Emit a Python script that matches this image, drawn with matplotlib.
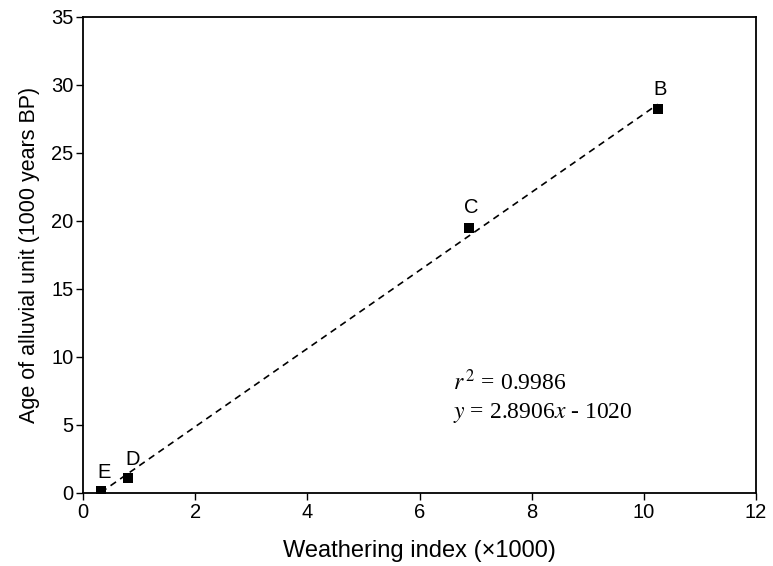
import numpy as np
import matplotlib.pyplot as plt

plt.rcParams["font.family"] = ["Liberation Sans", "DejaVu Sans"]

# weathering index (x1000) and age (1000 years BP)
labels = ["E", "D", "C", "B"]
weathering = [0.32, 0.8, 6.88, 10.25]
age = [0.15, 1.1, 19.5, 28.2]

fig = plt.figure(figsize=(7.73, 5.66), dpi=100)
ax = fig.add_axes([0.1074, 0.129, 0.8706, 0.841])

# regression line
slope, intercept = np.polyfit(weathering, age, 1)
xs = np.array([min(weathering), max(weathering)])
ax.plot(xs, slope * xs + intercept, color="black", ls=(0, (4, 3)), lw=1.2)

ax.plot(weathering, age, "s", color="black", markersize=7, markeredgewidth=0)

offsets = {"E": (0.05, 1.35), "D": (0.09, 1.35), "C": (0.05, 1.5), "B": (0.04, 1.5)}
for lab, x, y in zip(labels, weathering, age):
    dx, dy = offsets[lab]
    ax.text(x + dx, y + dy, lab, fontsize=14.5, ha="center", va="center")

ax.text(6.6, 8.1, r"$r^{\,2}$ = 0.9986", fontsize=17, family="Liberation Serif",
        math_fontfamily="stix", va="center")
ax.text(6.6, 5.9, r"$y$ = 2.8906$x$ - 1020", fontsize=17, family="Liberation Serif",
        math_fontfamily="stix", va="center")

ax.set_xlim(0, 12)
ax.set_ylim(0, 35)
ax.set_xticks(range(0, 13, 2))
ax.set_yticks(range(0, 36, 5))
ax.tick_params(direction="out", length=5, labelsize=14.5, width=1, pad=2)
ax.set_xlabel("Weathering index (\u00d71000)", fontsize=17, labelpad=13)
ax.set_ylabel("Age of alluvial unit (1000 years BP)", fontsize=15.5, labelpad=8)
for s in ax.spines.values():
    s.set_linewidth(1.3)

fig.savefig("out.png", dpi=100)
